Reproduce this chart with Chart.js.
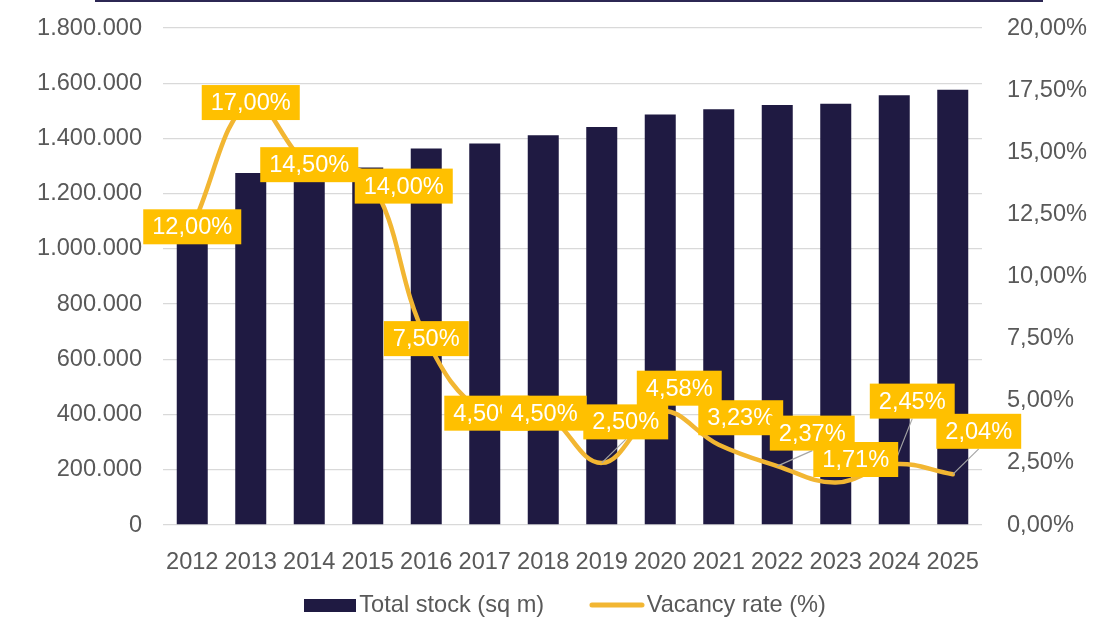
<!DOCTYPE html>
<html><head><meta charset="utf-8">
<script src="https://cdn.jsdelivr.net/npm/chart.js@4/dist/chart.umd.min.js"></script>
<style>
html,body{margin:0;padding:0;background:#fff;}
#wrap{position:relative;width:1114px;height:620px;overflow:hidden;}
#topline{position:absolute;left:95px;top:0;width:948px;height:2px;background:#2c2753;}
canvas{display:block;}
</style>
</head><body>
<div id="wrap"><canvas id="c" width="1114" height="620"></canvas><div id="topline"></div></div>
<script>
const years = ['2012','2013','2014','2015','2016','2017','2018','2019','2020','2021','2022','2023','2024','2025'];
const totalStock = [1050000, 1275000, 1280000, 1295000, 1364000, 1382000, 1412000, 1441000, 1487000, 1506000, 1521000, 1526000, 1556000, 1576000];
const vacancyRate = [12.00, 17.00, 14.50, 14.00, 7.50, 4.50, 4.50, 2.50, 4.58, 3.23, 2.37, 1.71, 2.45, 2.04];
const leftTickLabels = ['0','200.000','400.000','600.000','800.000','1.000.000','1.200.000','1.400.000','1.600.000','1.800.000'];
const rightTickLabels = ['0,00%','2,50%','5,00%','7,50%','10,00%','12,50%','15,00%','17,50%','20,00%'];
const seriesNames = ['Total stock (sq m)', 'Vacancy rate (%)'];

// label placement (pixel offsets of each value box from its point)
const labelOffsets = [[0,0],[0,0],[0,0],[36,9],[0,0],[2,0],[1,0],[24,-41],[19,-23],[22,-27],[35,-33],[20,-23],[18,-63],[26,-43]];

const FONT = "'Liberation Sans', Arial, sans-serif";
const FS = 23.6;
const GREY = '#595959';
const NAVY = '#1f1a42';
const GOLD = '#f2b632';
const BOX = '#ffc000';

function fmtPct(v){ return v.toFixed(2).replace('.', ',') + '%'; }

const barIcon = document.createElement('canvas');
barIcon.width = 52; barIcon.height = 13;
(function(){ const x = barIcon.getContext('2d'); x.fillStyle = NAVY; x.fillRect(0,0,52,13); })();
const lineIcon = document.createElement('canvas');
lineIcon.width = 56; lineIcon.height = 6;
(function(){ const x = lineIcon.getContext('2d'); x.strokeStyle = GOLD; x.lineWidth = 5; x.lineCap = 'round'; x.beginPath(); x.moveTo(3,3); x.lineTo(53,3); x.stroke(); })();
const icons = [barIcon, lineIcon];

const LEGEND_TOP = 538.5;

const legendPlacer = {
  id: 'legendPlacer',
  afterLayout(chart) {
    const lg = chart.legend;
    if (!lg) return;
    const h = lg.height;
    lg.top = LEGEND_TOP; lg.bottom = LEGEND_TOP + h;
    lg.left += 2; lg.right += 2;
  }
};

const valueLabels = {
  id: 'valueLabels',
  afterDatasetsDraw(chart) {
    const ctx = chart.ctx;
    const meta = chart.getDatasetMeta(1);
    ctx.save();
    ctx.font = FS + 'px ' + FONT;
    const boxes = meta.data.map((pt, i) => {
      const txt = fmtPct(vacancyRate[i]);
      const w = ctx.measureText(txt).width + 18;
      const h = 35;
      const cx = pt.x + labelOffsets[i][0];
      const cy = pt.y + labelOffsets[i][1];
      return {txt, x: cx - w/2, y: cy - h/2, w, h, cx, cy, px: pt.x, py: pt.y};
    });
    ctx.strokeStyle = '#a6a6a6';
    ctx.lineWidth = 1.2;
    boxes.forEach(b => {
      const gap = b.py - (b.y + b.h);
      if (gap > 10) {
        ctx.beginPath(); ctx.moveTo(b.px, b.py); ctx.lineTo(b.cx, b.y + b.h); ctx.stroke();
      }
    });
    ctx.textAlign = 'center';
    ctx.textBaseline = 'middle';
    boxes.forEach(b => {
      ctx.fillStyle = BOX;
      ctx.fillRect(b.x, b.y, b.w, b.h);
      ctx.fillStyle = '#ffffff';
      ctx.fillText(b.txt, b.cx, b.cy + 1);
    });
    ctx.restore();
  }
};

function noVPad(s){ s.paddingTop = 0; s.paddingBottom = 0; }

new Chart(document.getElementById('c'), {
  data: {
    labels: years,
    datasets: [
      { type: 'bar', label: seriesNames[0], data: totalStock, yAxisID: 'y', backgroundColor: NAVY, borderWidth: 0,
        categoryPercentage: 1.0, barPercentage: 0.53, order: 2 },
      { type: 'line', label: seriesNames[1], data: vacancyRate, yAxisID: 'y2', borderColor: GOLD, backgroundColor: GOLD,
        borderWidth: 4.5, pointRadius: 0, tension: 0.4, fill: false, order: 1, borderCapStyle: 'round' }
    ]
  },
  options: {
    responsive: false, animation: false, devicePixelRatio: 1,
    layout: { padding: { top: 28, left: 19.4, right: 0, bottom: -38.3 } },
    font: { family: FONT, size: FS },
    scales: {
      x: {
        grid: { display: false }, border: { display: false },
        ticks: { color: GREY, font: { family: FONT, size: FS }, padding: 15, maxRotation: 0, autoSkip: false },
        afterFit: s => { s.height = 45; }
      },
      y: {
        position: 'left', min: 0, max: 1800000,
        grid: { color: '#d9d9d9', lineWidth: 1.3, drawTicks: false },
        border: { display: false },
        ticks: { stepSize: 200000, color: GREY, font: { family: FONT, size: FS }, padding: 21,
          callback: (v, i) => leftTickLabels[i] },
        afterFit: s => { s.width = 143.6; noVPad(s); }
      },
      y2: {
        position: 'right', min: 0, max: 20,
        grid: { display: false, drawTicks: false }, border: { display: false },
        ticks: { stepSize: 2.5, color: GREY, font: { family: FONT, size: FS }, padding: 25,
          callback: (v, i) => rightTickLabels[i] },
        afterFit: s => { s.width = 132; noVPad(s); }
      }
    },
    plugins: {
      tooltip: { enabled: false },
      legend: {
        position: 'bottom',
        labels: {
          usePointStyle: true, pointStyleWidth: 36, padding: 54.7,
          color: GREY, font: { family: FONT, size: FS },
          generateLabels: chart => chart.data.datasets.map((ds, i) => ({
            text: ds.label, pointStyle: icons[i], fillStyle: ds.backgroundColor, strokeStyle: ds.borderColor || ds.backgroundColor,
            lineWidth: 0, hidden: false, datasetIndex: i, fontColor: GREY
          }))
        }
      }
    }
  },
  plugins: [legendPlacer, valueLabels]
});
</script>
</body></html>
